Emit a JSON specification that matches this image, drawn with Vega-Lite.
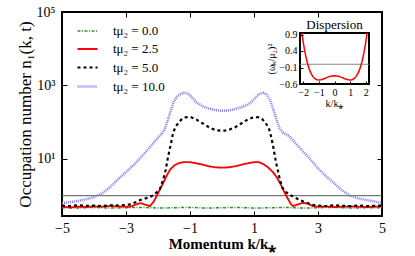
{
  "$schema": "https://vega.github.io/schema/vega-lite/v6.json",
  "width": 320,
  "height": 204,
  "autosize": {"type": "none"},
  "padding": {"left": 62, "top": 12, "right": 33, "bottom": 40},
  "background": "white",
  "config": {
    "font": "Liberation Serif",
    "view": {"stroke": "black", "strokeWidth": 2},
    "axis": {"grid": false, "domain": false, "labelFont": "Liberation Serif", "titleFont": "Liberation Serif", "tickColor": "black", "labelColor": "black", "titleColor": "black", "titleFontWeight": "normal", "tickWidth": 1, "labelOverlap": false, "labelFlush": false},
    "legend": {"labelFont": "Liberation Serif", "labelColor": "black"}
  },
  "datasets": {
    "main": [
      {"s": "tμ₂ = 0.0", "k": -5.0, "n": 0.47}, {"s": "tμ₂ = 0.0", "k": -4.5, "n": 0.46}, {"s": "tμ₂ = 0.0", "k": -4.0, "n": 0.48}, {"s": "tμ₂ = 0.0", "k": -3.5, "n": 0.46}, {"s": "tμ₂ = 0.0", "k": -3.0, "n": 0.47}, {"s": "tμ₂ = 0.0", "k": -2.5, "n": 0.48}, {"s": "tμ₂ = 0.0", "k": -2.0, "n": 0.46}, {"s": "tμ₂ = 0.0", "k": -1.5, "n": 0.47}, {"s": "tμ₂ = 0.0", "k": -1.0, "n": 0.48}, {"s": "tμ₂ = 0.0", "k": -0.5, "n": 0.46}, {"s": "tμ₂ = 0.0", "k": 0.0, "n": 0.47}, {"s": "tμ₂ = 0.0", "k": 0.5, "n": 0.48}, {"s": "tμ₂ = 0.0", "k": 1.0, "n": 0.46}, {"s": "tμ₂ = 0.0", "k": 1.5, "n": 0.47}, {"s": "tμ₂ = 0.0", "k": 2.0, "n": 0.48}, {"s": "tμ₂ = 0.0", "k": 2.5, "n": 0.46}, {"s": "tμ₂ = 0.0", "k": 3.0, "n": 0.47}, {"s": "tμ₂ = 0.0", "k": 3.5, "n": 0.48}, {"s": "tμ₂ = 0.0", "k": 4.0, "n": 0.46}, {"s": "tμ₂ = 0.0", "k": 4.5, "n": 0.47}, {"s": "tμ₂ = 0.0", "k": 5.0, "n": 0.47},

      {"s": "tμ₂ = 2.5", "k": -5.0, "n": 0.5}, {"s": "tμ₂ = 2.5", "k": -4.75, "n": 0.48}, {"s": "tμ₂ = 2.5", "k": -4.5, "n": 0.5}, {"s": "tμ₂ = 2.5", "k": -4.25, "n": 0.49}, {"s": "tμ₂ = 2.5", "k": -4.0, "n": 0.51}, {"s": "tμ₂ = 2.5", "k": -3.75, "n": 0.5}, {"s": "tμ₂ = 2.5", "k": -3.5, "n": 0.52}, {"s": "tμ₂ = 2.5", "k": -3.25, "n": 0.51}, {"s": "tμ₂ = 2.5", "k": -3.0, "n": 0.5}, {"s": "tμ₂ = 2.5", "k": -2.875, "n": 0.5}, {"s": "tμ₂ = 2.5", "k": -2.7, "n": 0.57}, {"s": "tμ₂ = 2.5", "k": -2.56, "n": 0.63}, {"s": "tμ₂ = 2.5", "k": -2.4, "n": 0.57}, {"s": "tμ₂ = 2.5", "k": -2.25, "n": 0.52}, {"s": "tμ₂ = 2.5", "k": -2.12, "n": 0.72}, {"s": "tμ₂ = 2.5", "k": -2.0, "n": 1.17}, {"s": "tμ₂ = 2.5", "k": -1.84, "n": 2.2}, {"s": "tμ₂ = 2.5", "k": -1.72, "n": 3.6}, {"s": "tμ₂ = 2.5", "k": -1.63, "n": 5.0}, {"s": "tμ₂ = 2.5", "k": -1.5, "n": 6.6}, {"s": "tμ₂ = 2.5", "k": -1.35, "n": 7.7}, {"s": "tμ₂ = 2.5", "k": -1.2, "n": 8.2}, {"s": "tμ₂ = 2.5", "k": -1.0, "n": 8.2}, {"s": "tμ₂ = 2.5", "k": -0.7, "n": 7.3}, {"s": "tμ₂ = 2.5", "k": -0.4, "n": 6.3}, {"s": "tμ₂ = 2.5", "k": -0.2, "n": 5.9}, {"s": "tμ₂ = 2.5", "k": 0.0, "n": 5.8}, {"s": "tμ₂ = 2.5", "k": 0.2, "n": 5.9}, {"s": "tμ₂ = 2.5", "k": 0.4, "n": 6.3}, {"s": "tμ₂ = 2.5", "k": 0.7, "n": 7.3}, {"s": "tμ₂ = 2.5", "k": 1.0, "n": 8.2}, {"s": "tμ₂ = 2.5", "k": 1.15, "n": 8.2}, {"s": "tμ₂ = 2.5", "k": 1.3, "n": 7.2}, {"s": "tμ₂ = 2.5", "k": 1.45, "n": 5.8}, {"s": "tμ₂ = 2.5", "k": 1.6, "n": 4.3}, {"s": "tμ₂ = 2.5", "k": 1.72, "n": 3.1}, {"s": "tμ₂ = 2.5", "k": 1.85, "n": 1.9}, {"s": "tμ₂ = 2.5", "k": 1.95, "n": 1.25}, {"s": "tμ₂ = 2.5", "k": 2.05, "n": 0.85}, {"s": "tμ₂ = 2.5", "k": 2.15, "n": 0.6}, {"s": "tμ₂ = 2.5", "k": 2.22, "n": 0.52}, {"s": "tμ₂ = 2.5", "k": 2.35, "n": 0.57}, {"s": "tμ₂ = 2.5", "k": 2.5, "n": 0.63}, {"s": "tμ₂ = 2.5", "k": 2.66, "n": 0.62}, {"s": "tμ₂ = 2.5", "k": 2.84, "n": 0.52}, {"s": "tμ₂ = 2.5", "k": 3.0, "n": 0.5}, {"s": "tμ₂ = 2.5", "k": 3.25, "n": 0.51}, {"s": "tμ₂ = 2.5", "k": 3.5, "n": 0.49}, {"s": "tμ₂ = 2.5", "k": 3.75, "n": 0.5}, {"s": "tμ₂ = 2.5", "k": 4.0, "n": 0.51}, {"s": "tμ₂ = 2.5", "k": 4.25, "n": 0.5}, {"s": "tμ₂ = 2.5", "k": 4.5, "n": 0.49}, {"s": "tμ₂ = 2.5", "k": 4.75, "n": 0.5}, {"s": "tμ₂ = 2.5", "k": 5.0, "n": 0.51},

      {"s": "tμ₂ = 5.0", "k": -5.0, "n": 0.54}, {"s": "tμ₂ = 5.0", "k": -4.75, "n": 0.52}, {"s": "tμ₂ = 5.0", "k": -4.5, "n": 0.55}, {"s": "tμ₂ = 5.0", "k": -4.25, "n": 0.53}, {"s": "tμ₂ = 5.0", "k": -4.0, "n": 0.54}, {"s": "tμ₂ = 5.0", "k": -3.75, "n": 0.52}, {"s": "tμ₂ = 5.0", "k": -3.5, "n": 0.55}, {"s": "tμ₂ = 5.0", "k": -3.25, "n": 0.54}, {"s": "tμ₂ = 5.0", "k": -3.0, "n": 0.56}, {"s": "tμ₂ = 5.0", "k": -2.875, "n": 0.58}, {"s": "tμ₂ = 5.0", "k": -2.7, "n": 0.66}, {"s": "tμ₂ = 5.0", "k": -2.56, "n": 0.76}, {"s": "tμ₂ = 5.0", "k": -2.4, "n": 0.84}, {"s": "tμ₂ = 5.0", "k": -2.25, "n": 0.91}, {"s": "tμ₂ = 5.0", "k": -2.1, "n": 1.1}, {"s": "tμ₂ = 5.0", "k": -1.94, "n": 1.5}, {"s": "tμ₂ = 5.0", "k": -1.84, "n": 2.7}, {"s": "tμ₂ = 5.0", "k": -1.76, "n": 5.0}, {"s": "tμ₂ = 5.0", "k": -1.69, "n": 11}, {"s": "tμ₂ = 5.0", "k": -1.6, "n": 25}, {"s": "tμ₂ = 5.0", "k": -1.53, "n": 51}, {"s": "tμ₂ = 5.0", "k": -1.45, "n": 75}, {"s": "tμ₂ = 5.0", "k": -1.35, "n": 100}, {"s": "tμ₂ = 5.0", "k": -1.25, "n": 122}, {"s": "tμ₂ = 5.0", "k": -1.15, "n": 135}, {"s": "tμ₂ = 5.0", "k": -1.05, "n": 139}, {"s": "tμ₂ = 5.0", "k": -0.95, "n": 135}, {"s": "tμ₂ = 5.0", "k": -0.8, "n": 118}, {"s": "tμ₂ = 5.0", "k": -0.6, "n": 92}, {"s": "tμ₂ = 5.0", "k": -0.4, "n": 72}, {"s": "tμ₂ = 5.0", "k": -0.2, "n": 61}, {"s": "tμ₂ = 5.0", "k": 0.0, "n": 58}, {"s": "tμ₂ = 5.0", "k": 0.2, "n": 61}, {"s": "tμ₂ = 5.0", "k": 0.4, "n": 72}, {"s": "tμ₂ = 5.0", "k": 0.6, "n": 92}, {"s": "tμ₂ = 5.0", "k": 0.8, "n": 118}, {"s": "tμ₂ = 5.0", "k": 0.95, "n": 133}, {"s": "tμ₂ = 5.0", "k": 1.05, "n": 138}, {"s": "tμ₂ = 5.0", "k": 1.15, "n": 135}, {"s": "tμ₂ = 5.0", "k": 1.25, "n": 122}, {"s": "tμ₂ = 5.0", "k": 1.35, "n": 100}, {"s": "tμ₂ = 5.0", "k": 1.45, "n": 72}, {"s": "tμ₂ = 5.0", "k": 1.5, "n": 55}, {"s": "tμ₂ = 5.0", "k": 1.6, "n": 22}, {"s": "tμ₂ = 5.0", "k": 1.66, "n": 11}, {"s": "tμ₂ = 5.0", "k": 1.72, "n": 6}, {"s": "tμ₂ = 5.0", "k": 1.8, "n": 3}, {"s": "tμ₂ = 5.0", "k": 1.875, "n": 1.7}, {"s": "tμ₂ = 5.0", "k": 2.0, "n": 1.25}, {"s": "tμ₂ = 5.0", "k": 2.125, "n": 1.05}, {"s": "tμ₂ = 5.0", "k": 2.3, "n": 0.87}, {"s": "tμ₂ = 5.0", "k": 2.44, "n": 0.76}, {"s": "tμ₂ = 5.0", "k": 2.6, "n": 0.66}, {"s": "tμ₂ = 5.0", "k": 2.84, "n": 0.56}, {"s": "tμ₂ = 5.0", "k": 3.0, "n": 0.54}, {"s": "tμ₂ = 5.0", "k": 3.25, "n": 0.52}, {"s": "tμ₂ = 5.0", "k": 3.5, "n": 0.55}, {"s": "tμ₂ = 5.0", "k": 3.75, "n": 0.53}, {"s": "tμ₂ = 5.0", "k": 4.0, "n": 0.52}, {"s": "tμ₂ = 5.0", "k": 4.25, "n": 0.54}, {"s": "tμ₂ = 5.0", "k": 4.5, "n": 0.52}, {"s": "tμ₂ = 5.0", "k": 4.75, "n": 0.53}, {"s": "tμ₂ = 5.0", "k": 5.0, "n": 0.54},

      {"s": "tμ₂ = 10.0", "k": -5.0, "n": 0.63}, {"s": "tμ₂ = 10.0", "k": -4.75, "n": 0.67}, {"s": "tμ₂ = 10.0", "k": -4.5, "n": 0.72}, {"s": "tμ₂ = 10.0", "k": -4.25, "n": 0.8}, {"s": "tμ₂ = 10.0", "k": -4.0, "n": 0.92}, {"s": "tμ₂ = 10.0", "k": -3.75, "n": 1.15}, {"s": "tμ₂ = 10.0", "k": -3.5, "n": 1.7}, {"s": "tμ₂ = 10.0", "k": -3.25, "n": 2.8}, {"s": "tμ₂ = 10.0", "k": -3.0, "n": 4.4}, {"s": "tμ₂ = 10.0", "k": -2.75, "n": 7}, {"s": "tμ₂ = 10.0", "k": -2.5, "n": 12}, {"s": "tμ₂ = 10.0", "k": -2.25, "n": 21}, {"s": "tμ₂ = 10.0", "k": -2.1, "n": 30}, {"s": "tμ₂ = 10.0", "k": -2.0, "n": 38}, {"s": "tμ₂ = 10.0", "k": -1.9, "n": 47}, {"s": "tμ₂ = 10.0", "k": -1.8, "n": 62}, {"s": "tμ₂ = 10.0", "k": -1.7, "n": 110}, {"s": "tμ₂ = 10.0", "k": -1.6, "n": 210}, {"s": "tμ₂ = 10.0", "k": -1.5, "n": 380}, {"s": "tμ₂ = 10.0", "k": -1.4, "n": 500}, {"s": "tμ₂ = 10.0", "k": -1.3, "n": 580}, {"s": "tμ₂ = 10.0", "k": -1.2, "n": 630}, {"s": "tμ₂ = 10.0", "k": -1.1, "n": 620}, {"s": "tμ₂ = 10.0", "k": -1.0, "n": 540}, {"s": "tμ₂ = 10.0", "k": -0.9, "n": 430}, {"s": "tμ₂ = 10.0", "k": -0.8, "n": 345}, {"s": "tμ₂ = 10.0", "k": -0.6, "n": 270}, {"s": "tμ₂ = 10.0", "k": -0.4, "n": 235}, {"s": "tμ₂ = 10.0", "k": -0.2, "n": 212}, {"s": "tμ₂ = 10.0", "k": 0.0, "n": 205}, {"s": "tμ₂ = 10.0", "k": 0.2, "n": 210}, {"s": "tμ₂ = 10.0", "k": 0.4, "n": 228}, {"s": "tμ₂ = 10.0", "k": 0.6, "n": 255}, {"s": "tμ₂ = 10.0", "k": 0.8, "n": 300}, {"s": "tμ₂ = 10.0", "k": 0.9, "n": 345}, {"s": "tμ₂ = 10.0", "k": 1.0, "n": 420}, {"s": "tμ₂ = 10.0", "k": 1.1, "n": 530}, {"s": "tμ₂ = 10.0", "k": 1.2, "n": 610}, {"s": "tμ₂ = 10.0", "k": 1.3, "n": 630}, {"s": "tμ₂ = 10.0", "k": 1.4, "n": 560}, {"s": "tμ₂ = 10.0", "k": 1.5, "n": 400}, {"s": "tμ₂ = 10.0", "k": 1.6, "n": 230}, {"s": "tμ₂ = 10.0", "k": 1.7, "n": 120}, {"s": "tμ₂ = 10.0", "k": 1.8, "n": 68}, {"s": "tμ₂ = 10.0", "k": 1.9, "n": 52}, {"s": "tμ₂ = 10.0", "k": 2.0, "n": 47}, {"s": "tμ₂ = 10.0", "k": 2.1, "n": 42}, {"s": "tμ₂ = 10.0", "k": 2.25, "n": 30}, {"s": "tμ₂ = 10.0", "k": 2.5, "n": 17}, {"s": "tμ₂ = 10.0", "k": 2.75, "n": 10}, {"s": "tμ₂ = 10.0", "k": 3.0, "n": 5.6}, {"s": "tμ₂ = 10.0", "k": 3.25, "n": 3.4}, {"s": "tμ₂ = 10.0", "k": 3.5, "n": 2.2}, {"s": "tμ₂ = 10.0", "k": 3.75, "n": 1.4}, {"s": "tμ₂ = 10.0", "k": 4.0, "n": 1.0}, {"s": "tμ₂ = 10.0", "k": 4.25, "n": 0.85}, {"s": "tμ₂ = 10.0", "k": 4.5, "n": 0.77}, {"s": "tμ₂ = 10.0", "k": 4.75, "n": 0.7}, {"s": "tμ₂ = 10.0", "k": 5.0, "n": 0.64}
    ],
    "disp": [
      {"k": -2.08, "w2": 0.95}, {"k": -2.05, "w2": 0.853}, {"k": -2.0, "w2": 0.69}, {"k": -1.95, "w2": 0.541}, {"k": -1.875, "w2": 0.343}, {"k": -1.75, "w2": 0.073}, {"k": -1.625, "w2": -0.13}, {"k": -1.5, "w2": -0.277}, {"k": -1.375, "w2": -0.377}, {"k": -1.25, "w2": -0.439}, {"k": -1.125, "w2": -0.471}, {"k": -1.0, "w2": -0.48}, {"k": -0.875, "w2": -0.473}, {"k": -0.75, "w2": -0.455}, {"k": -0.625, "w2": -0.432}, {"k": -0.5, "w2": -0.407}, {"k": -0.375, "w2": -0.384}, {"k": -0.25, "w2": -0.366}, {"k": -0.125, "w2": -0.354}, {"k": 0.0, "w2": -0.35}, {"k": 0.125, "w2": -0.354}, {"k": 0.25, "w2": -0.366}, {"k": 0.375, "w2": -0.384}, {"k": 0.5, "w2": -0.407}, {"k": 0.625, "w2": -0.432}, {"k": 0.75, "w2": -0.455}, {"k": 0.875, "w2": -0.473}, {"k": 1.0, "w2": -0.48}, {"k": 1.125, "w2": -0.471}, {"k": 1.25, "w2": -0.439}, {"k": 1.375, "w2": -0.377}, {"k": 1.5, "w2": -0.277}, {"k": 1.625, "w2": -0.13}, {"k": 1.75, "w2": 0.073}, {"k": 1.875, "w2": 0.343}, {"k": 1.95, "w2": 0.541}, {"k": 2.0, "w2": 0.69}, {"k": 2.05, "w2": 0.853}, {"k": 2.08, "w2": 0.95}
    ]
  },
  "layer": [
    {
      "layer": [
        {
          "data": {"values": [{}]},
          "mark": {"type": "rule", "color": "#555555", "strokeWidth": 1},
          "encoding": {
            "x": {"datum": -5, "type": "quantitative", "scale": {"domain": [-5, 5], "nice": false}, "axis": {"orient": "top", "values": [-5, -3, -1, 1, 3, 5], "labels": false, "tickSize": -5, "title": null}},
            "x2": {"datum": 5},
            "y": {"datum": 1, "type": "quantitative", "scale": {"type": "log", "domain": [0.28, 100000], "nice": false}, "axis": {"orient": "right", "values": [10, 1000, 100000], "labels": false, "tickSize": -5, "title": null}}
          }
        },
        {
          "data": {"name": "main"},
          "mark": {"type": "line", "strokeCap": "butt", "strokeJoin": "round"},
          "encoding": {
            "x": {"field": "k", "type": "quantitative", "scale": {"domain": [-5, 5], "nice": false},
                  "axis": {"orient": "bottom", "values": [-5, -3, -1, 1, 3, 5], "tickSize": -5, "labelPadding": 10, "labelFontSize": 14, "title": "Momentum k/k⁎", "titleFontSize": 15, "titleFontWeight": "bold", "titlePadding": 1}},
            "y": {"field": "n", "type": "quantitative", "scale": {"type": "log", "domain": [0.28, 100000], "nice": false},
                  "axis": {"orient": "left", "values": [10, 1000, 100000], "tickSize": -5, "labelPadding": 12, "labelFontSize": 14, "labelExpr": "datum.value == 10 ? '10¹' : datum.value == 1000 ? '10³' : '10⁵'", "title": "Occupation number n₁(k, t)", "titleFontSize": 17, "titlePadding": 2}},
            "color": {"field": "s", "type": "nominal", "scale": {"domain": ["tμ₂ = 0.0", "tμ₂ = 2.5", "tμ₂ = 5.0", "tμ₂ = 10.0"], "range": ["#229922", "#ff0000", "#000000", "#7b7bff"]},
                      "legend": {"orient": "none", "legendX": 14, "legendY": 8, "title": null, "labelFontSize": 13, "symbolType": "stroke", "symbolSize": 400, "labelOffset": 14, "rowPadding": 0, "padding": 0}},
            "strokeDash": {"field": "s", "type": "nominal", "scale": {"domain": ["tμ₂ = 0.0", "tμ₂ = 2.5", "tμ₂ = 5.0", "tμ₂ = 10.0"], "range": [[3, 1.5, 1, 1.5], [1, 0], [3, 3], [1, 1]]},
                      "legend": {"orient": "none", "legendX": 14, "legendY": 8, "title": null, "labelFontSize": 13, "symbolType": "stroke", "symbolSize": 400, "labelOffset": 14, "rowPadding": 0, "padding": 0}},
            "strokeWidth": {"field": "s", "type": "nominal", "scale": {"domain": ["tμ₂ = 0.0", "tμ₂ = 2.5", "tμ₂ = 5.0", "tμ₂ = 10.0"], "range": [1.5, 2.5, 3, 1.2]},
                      "legend": {"orient": "none", "legendX": 14, "legendY": 8, "title": null, "labelFontSize": 13, "symbolType": "stroke", "symbolSize": 400, "labelOffset": 14, "rowPadding": 0, "padding": 0}}
          }
        }
      ],
      "resolve": {"axis": {"x": "independent", "y": "independent"}}
    },
    {
      "layer": [
        {
          "data": {"values": [{}]},
          "mark": {"type": "rect", "fill": "white", "stroke": "black", "strokeWidth": 2},
          "encoding": {
            "x": {"datum": -2.2, "type": "quantitative", "scale": {"domain": [-2.2, 2.2], "range": [238, 307], "nice": false},
                  "axis": {"orient": "bottom", "offset": -132, "zindex": 2, "values": [-2, -1, 0, 1, 2], "format": "d", "labelOverlap": false, "tickSize": -3, "labelPadding": 6, "labelFontSize": 10, "title": "k/k⁎", "titleFontSize": 10, "titlePadding": 1}},
            "x2": {"datum": 2.2},
            "y": {"datum": -0.6, "type": "quantitative", "scale": {"domain": [-0.6, 0.95], "range": [72, 21], "nice": false},
                  "axis": {"orient": "left", "offset": -238, "zindex": 2, "values": [-0.6, -0.1, 0.41, 0.9], "format": ".1f", "labelOverlap": false, "labelBound": false, "labelSeparation": 0, "tickSize": -3, "labelPadding": 6, "labelFontSize": 10, "title": "(ωₖ/μ₂)²", "titleFontSize": 10, "titlePadding": 2}},
            "y2": {"datum": 0.95}
          }
        },
        {
          "data": {"values": [{}]},
          "mark": {"type": "rule", "color": "#888888", "strokeWidth": 1},
          "encoding": {
            "x": {"datum": -2.2, "type": "quantitative"},
            "x2": {"datum": 2.2},
            "y": {"datum": 0, "type": "quantitative"}
          }
        },
        {
          "data": {"name": "disp"},
          "mark": {"type": "line", "color": "#ff0000", "strokeWidth": 1.5},
          "encoding": {
            "x": {"field": "k", "type": "quantitative"},
            "y": {"field": "w2", "type": "quantitative"}
          }
        },
        {
          "data": {"values": [{}]},
          "mark": {"type": "text", "text": "Dispersion", "fontSize": 13, "font": "Liberation Serif", "color": "black"},
          "encoding": {
            "x": {"datum": 0, "type": "quantitative"},
            "y": {"datum": 1.2, "type": "quantitative"}
          }
        }
      ]
    }
  ],
  "resolve": {"scale": {"x": "independent", "y": "independent"}}
}
